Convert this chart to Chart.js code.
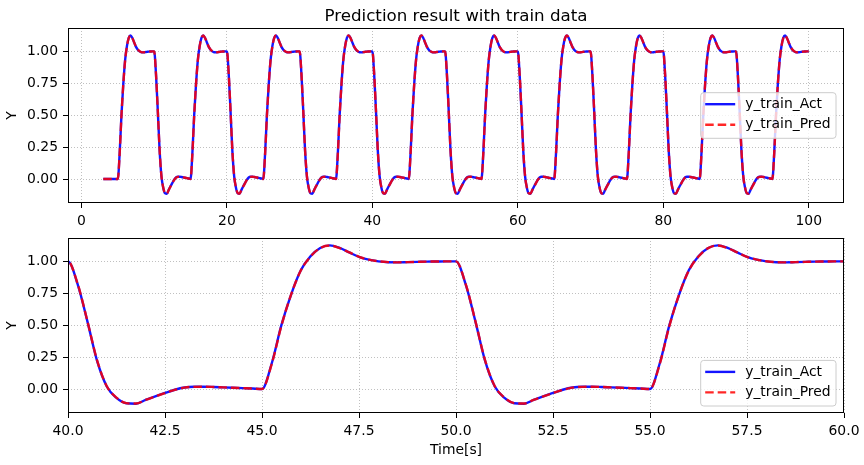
<!DOCTYPE html>
<html>
<head>
<meta charset="utf-8">
<script src="https://cdn.jsdelivr.net/npm/chart.js@4.4.0/dist/chart.umd.min.js"></script>
<style>
  html, body { margin: 0; padding: 0; background: #fff; }
  body { width: 864px; height: 465px; position: relative; overflow: hidden; }
  canvas { position: absolute; left: 0; }
  #topChart { top: 0; }
  #bottomChart { top: 232px; }
</style>
</head>
<body>
<canvas id="topChart" width="864" height="232"></canvas>
<canvas id="bottomChart" width="864" height="233"></canvas>
<script>
// sampled signal: starts at 3 s, one sample every 0.25 s
const tStart = 3;
const tStep = 0.25;

const seriesNames = ['y_train_Act', 'y_train_Pred'];

const yAct = [
  0.000, 0.000, 0.000, 0.000, 0.000, 0.000, 0.000, 0.000,
  0.000, 0.200, 0.500, 0.740, 0.930, 1.040, 1.105, 1.125, 1.105, 1.070, 1.035, 1.013, 1.000, 0.993, 0.992, 0.994, 0.996, 0.998, 0.999, 1.000,
  1.000, 0.820, 0.530, 0.220, 0.020, -0.070, -0.112, -0.115, -0.085, -0.057, -0.031, -0.006, 0.012, 0.018, 0.018, 0.016, 0.013, 0.010, 0.007, 0.004,
  0.000, 0.200, 0.500, 0.740, 0.930, 1.040, 1.105, 1.125, 1.105, 1.070, 1.035, 1.013, 1.000, 0.993, 0.992, 0.994, 0.996, 0.998, 0.999, 1.000,
  1.000, 0.820, 0.530, 0.220, 0.020, -0.070, -0.112, -0.115, -0.085, -0.057, -0.031, -0.006, 0.012, 0.018, 0.018, 0.016, 0.013, 0.010, 0.007, 0.004,
  0.000, 0.200, 0.500, 0.740, 0.930, 1.040, 1.105, 1.125, 1.105, 1.070, 1.035, 1.013, 1.000, 0.993, 0.992, 0.994, 0.996, 0.998, 0.999, 1.000,
  1.000, 0.820, 0.530, 0.220, 0.020, -0.070, -0.112, -0.115, -0.085, -0.057, -0.031, -0.006, 0.012, 0.018, 0.018, 0.016, 0.013, 0.010, 0.007, 0.004,
  0.000, 0.200, 0.500, 0.740, 0.930, 1.040, 1.105, 1.125, 1.105, 1.070, 1.035, 1.013, 1.000, 0.993, 0.992, 0.994, 0.996, 0.998, 0.999, 1.000,
  1.000, 0.820, 0.530, 0.220, 0.020, -0.070, -0.112, -0.115, -0.085, -0.057, -0.031, -0.006, 0.012, 0.018, 0.018, 0.016, 0.013, 0.010, 0.007, 0.004,
  0.000, 0.200, 0.500, 0.740, 0.930, 1.040, 1.105, 1.125, 1.105, 1.070, 1.035, 1.013, 1.000, 0.993, 0.992, 0.994, 0.996, 0.998, 0.999, 1.000,
  1.000, 0.820, 0.530, 0.220, 0.020, -0.070, -0.112, -0.115, -0.085, -0.057, -0.031, -0.006, 0.012, 0.018, 0.018, 0.016, 0.013, 0.010, 0.007, 0.004,
  0.000, 0.200, 0.500, 0.740, 0.930, 1.040, 1.105, 1.125, 1.105, 1.070, 1.035, 1.013, 1.000, 0.993, 0.992, 0.994, 0.996, 0.998, 0.999, 1.000,
  1.000, 0.820, 0.530, 0.220, 0.020, -0.070, -0.112, -0.115, -0.085, -0.057, -0.031, -0.006, 0.012, 0.018, 0.018, 0.016, 0.013, 0.010, 0.007, 0.004,
  0.000, 0.200, 0.500, 0.740, 0.930, 1.040, 1.105, 1.125, 1.105, 1.070, 1.035, 1.013, 1.000, 0.993, 0.992, 0.994, 0.996, 0.998, 0.999, 1.000,
  1.000, 0.820, 0.530, 0.220, 0.020, -0.070, -0.112, -0.115, -0.085, -0.057, -0.031, -0.006, 0.012, 0.018, 0.018, 0.016, 0.013, 0.010, 0.007, 0.004,
  0.000, 0.200, 0.500, 0.740, 0.930, 1.040, 1.105, 1.125, 1.105, 1.070, 1.035, 1.013, 1.000, 0.993, 0.992, 0.994, 0.996, 0.998, 0.999, 1.000,
  1.000, 0.820, 0.530, 0.220, 0.020, -0.070, -0.112, -0.115, -0.085, -0.057, -0.031, -0.006, 0.012, 0.018, 0.018, 0.016, 0.013, 0.010, 0.007, 0.004,
  0.000, 0.200, 0.500, 0.740, 0.930, 1.040, 1.105, 1.125, 1.105, 1.070, 1.035, 1.013, 1.000, 0.993, 0.992, 0.994, 0.996, 0.998, 0.999, 1.000,
  1.000, 0.820, 0.530, 0.220, 0.020, -0.070, -0.112, -0.115, -0.085, -0.057, -0.031, -0.006, 0.012, 0.018, 0.018, 0.016, 0.013, 0.010, 0.007, 0.004,
  0.000, 0.200, 0.500, 0.740, 0.930, 1.040, 1.105, 1.125, 1.105, 1.070, 1.035, 1.013, 1.000, 0.993, 0.992, 0.994, 0.996, 0.998, 0.999, 1.000,
  1.000
];

// predicted output (overlaps the measured one almost exactly)
const yPred = [
  0.000, 0.000, 0.000, 0.000, 0.000, 0.000, 0.000, 0.000,
  0.000, 0.195, 0.495, 0.740, 0.928, 1.038, 1.104, 1.124, 1.104, 1.070, 1.036, 1.014, 1.001, 0.994, 0.992, 0.994, 0.996, 0.998, 0.999, 1.000,
  1.000, 0.822, 0.532, 0.224, 0.022, -0.068, -0.111, -0.114, -0.086, -0.058, -0.032, -0.007, 0.011, 0.017, 0.018, 0.016, 0.013, 0.010, 0.007, 0.004,
  0.000, 0.195, 0.495, 0.740, 0.928, 1.038, 1.104, 1.124, 1.104, 1.070, 1.036, 1.014, 1.001, 0.994, 0.992, 0.994, 0.996, 0.998, 0.999, 1.000,
  1.000, 0.822, 0.532, 0.224, 0.022, -0.068, -0.111, -0.114, -0.086, -0.058, -0.032, -0.007, 0.011, 0.017, 0.018, 0.016, 0.013, 0.010, 0.007, 0.004,
  0.000, 0.195, 0.495, 0.740, 0.928, 1.038, 1.104, 1.124, 1.104, 1.070, 1.036, 1.014, 1.001, 0.994, 0.992, 0.994, 0.996, 0.998, 0.999, 1.000,
  1.000, 0.822, 0.532, 0.224, 0.022, -0.068, -0.111, -0.114, -0.086, -0.058, -0.032, -0.007, 0.011, 0.017, 0.018, 0.016, 0.013, 0.010, 0.007, 0.004,
  0.000, 0.195, 0.495, 0.740, 0.928, 1.038, 1.104, 1.124, 1.104, 1.070, 1.036, 1.014, 1.001, 0.994, 0.992, 0.994, 0.996, 0.998, 0.999, 1.000,
  1.000, 0.822, 0.532, 0.224, 0.022, -0.068, -0.111, -0.114, -0.086, -0.058, -0.032, -0.007, 0.011, 0.017, 0.018, 0.016, 0.013, 0.010, 0.007, 0.004,
  0.000, 0.195, 0.495, 0.740, 0.928, 1.038, 1.104, 1.124, 1.104, 1.070, 1.036, 1.014, 1.001, 0.994, 0.992, 0.994, 0.996, 0.998, 0.999, 1.000,
  1.000, 0.822, 0.532, 0.224, 0.022, -0.068, -0.111, -0.114, -0.086, -0.058, -0.032, -0.007, 0.011, 0.017, 0.018, 0.016, 0.013, 0.010, 0.007, 0.004,
  0.000, 0.195, 0.495, 0.740, 0.928, 1.038, 1.104, 1.124, 1.104, 1.070, 1.036, 1.014, 1.001, 0.994, 0.992, 0.994, 0.996, 0.998, 0.999, 1.000,
  1.000, 0.822, 0.532, 0.224, 0.022, -0.068, -0.111, -0.114, -0.086, -0.058, -0.032, -0.007, 0.011, 0.017, 0.018, 0.016, 0.013, 0.010, 0.007, 0.004,
  0.000, 0.195, 0.495, 0.740, 0.928, 1.038, 1.104, 1.124, 1.104, 1.070, 1.036, 1.014, 1.001, 0.994, 0.992, 0.994, 0.996, 0.998, 0.999, 1.000,
  1.000, 0.822, 0.532, 0.224, 0.022, -0.068, -0.111, -0.114, -0.086, -0.058, -0.032, -0.007, 0.011, 0.017, 0.018, 0.016, 0.013, 0.010, 0.007, 0.004,
  0.000, 0.195, 0.495, 0.740, 0.928, 1.038, 1.104, 1.124, 1.104, 1.070, 1.036, 1.014, 1.001, 0.994, 0.992, 0.994, 0.996, 0.998, 0.999, 1.000,
  1.000, 0.822, 0.532, 0.224, 0.022, -0.068, -0.111, -0.114, -0.086, -0.058, -0.032, -0.007, 0.011, 0.017, 0.018, 0.016, 0.013, 0.010, 0.007, 0.004,
  0.000, 0.195, 0.495, 0.740, 0.928, 1.038, 1.104, 1.124, 1.104, 1.070, 1.036, 1.014, 1.001, 0.994, 0.992, 0.994, 0.996, 0.998, 0.999, 1.000,
  1.000, 0.822, 0.532, 0.224, 0.022, -0.068, -0.111, -0.114, -0.086, -0.058, -0.032, -0.007, 0.011, 0.017, 0.018, 0.016, 0.013, 0.010, 0.007, 0.004,
  0.000, 0.195, 0.495, 0.740, 0.928, 1.038, 1.104, 1.124, 1.104, 1.070, 1.036, 1.014, 1.001, 0.994, 0.992, 0.994, 0.996, 0.998, 0.999, 1.000,
  1.000
];

const topXTicks = [0, 20, 40, 60, 80, 100];
const bottomXTicks = [40, 42.5, 45, 47.5, 50, 52.5, 55, 57.5, 60];
const yTicks = [0, 0.25, 0.5, 0.75, 1.0];

const FONT = "'DejaVu Sans', sans-serif";
Chart.defaults.font.family = FONT;
Chart.defaults.font.size = 13.9;
Chart.defaults.color = '#000';

const timeAxis = yAct.map((_, i) => tStart + i * tStep);
const toPoints = ys => ys.map((y, i) => ({ x: timeAxis[i], y: y }));

const ACT_COLOR = 'rgba(0,0,255,0.92)';
const PRED_COLOR = 'rgba(255,0,0,0.85)';
const PRED_DASH = [8.5, 4];
const LINE_W = 2.4;

function makeDatasets() {
    return [
        {
            label: seriesNames[0], data: toPoints(yAct),
            borderColor: ACT_COLOR, borderWidth: LINE_W, pointRadius: 0,
            cubicInterpolationMode: 'monotone', order: 2
        },
        {
            label: seriesNames[1], data: toPoints(yPred),
            borderColor: PRED_COLOR, borderWidth: LINE_W, borderDash: PRED_DASH, pointRadius: 0,
            cubicInterpolationMode: 'monotone', order: 1
        }
    ];
}

function axis(min, max, ticks, fmt, fit) {
    return {
        type: 'linear', min: min, max: max,
        afterBuildTicks: s => { s.ticks = ticks.map(v => ({ value: v })); },
        afterFit: s => { fit(s); s.paddingTop = 0; s.paddingBottom = 0; s.paddingLeft = 0; s.paddingRight = 0; },
        ticks: { callback: v => fmt(v), autoSkip: false, maxRotation: 0, minRotation: 0, padding: 5, color: '#000' },
        grid: { color: '#b0b0b0', lineWidth: 0.8, tickLength: 5, tickColor: '#000', tickWidth: 1, tickBorderDash: [] },
        border: { display: false, dash: [1, 2] }
    };
}

// frame, title, axis labels and legend, drawn like matplotlib does
const decorPlugin = {
    id: 'decor',
    afterDraw(chart, args, opts) {
        const { ctx, chartArea: a } = chart;
        ctx.save();
        ctx.strokeStyle = '#000';
        ctx.lineWidth = 1;
        const l = Math.round(a.left) + 0.5, r = Math.round(a.right) - 0.5;
        const t = Math.round(a.top) + 0.5, b = Math.round(a.bottom) - 0.5;
        ctx.strokeRect(l, t, r - l, b - t);

        ctx.fillStyle = '#000';
        if (opts.title) {
            ctx.font = '16.7px ' + FONT;
            ctx.textAlign = 'center';
            ctx.textBaseline = 'alphabetic';
            ctx.fillText(opts.title, (a.left + a.right) / 2, 21);
        }
        if (opts.xLabel) {
            ctx.font = '13.9px ' + FONT;
            ctx.textAlign = 'center';
            ctx.textBaseline = 'middle';
            ctx.fillText(opts.xLabel, (a.left + a.right) / 2, opts.xLabelY);
        }
        ctx.save();
        ctx.translate(12, (a.top + a.bottom) / 2);
        ctx.rotate(-Math.PI / 2);
        ctx.font = '13.9px ' + FONT;
        ctx.textAlign = 'center';
        ctx.textBaseline = 'middle';
        ctx.fillText(opts.yLabel, 0, 0);
        ctx.restore();

        // legend box
        const lx = opts.legendX, ly = opts.legendY, w = 135.3, h = 45.6, rad = 3;
        ctx.beginPath();
        ctx.moveTo(lx + rad, ly);
        ctx.arcTo(lx + w, ly, lx + w, ly + h, rad);
        ctx.arcTo(lx + w, ly + h, lx, ly + h, rad);
        ctx.arcTo(lx, ly + h, lx, ly, rad);
        ctx.arcTo(lx, ly, lx + w, ly, rad);
        ctx.closePath();
        ctx.fillStyle = 'rgba(255,255,255,0.8)';
        ctx.fill();
        ctx.strokeStyle = '#cccccc';
        ctx.lineWidth = 1;
        ctx.stroke();

        const rows = [ly + 11.5, ly + 32];
        const styles = [[ACT_COLOR, []], [PRED_COLOR, PRED_DASH]];
        rows.forEach((ry, i) => {
            ctx.beginPath();
            ctx.setLineDash(styles[i][1]);
            ctx.strokeStyle = styles[i][0];
            ctx.lineWidth = LINE_W;
            ctx.moveTo(lx + 4.5, ry);
            ctx.lineTo(lx + 34.5, ry);
            ctx.stroke();
            ctx.setLineDash([]);
            ctx.fillStyle = '#000';
            ctx.font = '13.9px ' + FONT;
            ctx.textAlign = 'left';
            ctx.textBaseline = 'middle';
            ctx.fillText(seriesNames[i], lx + 44.5, ry);
        });
        ctx.restore();
    }
};

const commonOpts = {
    responsive: false,
    animation: false,
    devicePixelRatio: 1,
    events: [],
    plugins: { legend: { display: false }, tooltip: { enabled: false } }
};

new Chart(document.getElementById('topChart'), {
    type: 'line',
    data: { datasets: makeDatasets() },
    plugins: [decorPlugin],
    options: {
        ...commonOpts,
        layout: { padding: { top: 28, right: 20, left: 0, bottom: 0 } },
        plugins: {
            ...commonOpts.plugins,
            decor: { title: 'Prediction result with train data', yLabel: 'Y', legendX: 700.7, legendY: 92.7 }
        },
        scales: {
            x: axis(-1.85, 104.85, topXTicks, v => String(v), s => { s.height = 29; }),
            y: axis(-0.188, 1.183, yTicks, v => v.toFixed(2), s => { s.width = 68; })
        }
    }
});

new Chart(document.getElementById('bottomChart'), {
    type: 'line',
    data: { datasets: makeDatasets() },
    plugins: [decorPlugin],
    options: {
        ...commonOpts,
        layout: { padding: { top: 6, right: 20, left: 0, bottom: 0 } },
        plugins: {
            ...commonOpts.plugins,
            decor: { xLabel: 'Time[s]', xLabelY: 218, yLabel: 'Y', legendX: 700.7, legendY: 128.4 }
        },
        scales: {
            x: axis(40, 60, bottomXTicks, v => v.toFixed(1), s => { s.height = 52; }),
            y: axis(-0.188, 1.183, yTicks, v => v.toFixed(2), s => { s.width = 68; })
        }
    }
});
</script>
</body>
</html>
